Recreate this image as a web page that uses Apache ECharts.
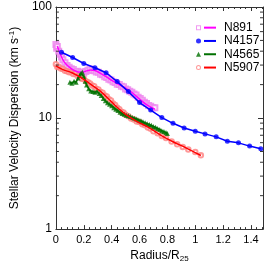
<!DOCTYPE html>
<html><head><meta charset="utf-8">
<script src="https://cdn.jsdelivr.net/npm/echarts@6/dist/echarts.min.js"></script>
<style>html,body{margin:0;padding:0;background:#fff}#c{width:266px;height:268px}</style>
</head><body><div id="c"></div>
<script>
// ---- data ----
const names = ['N891', 'N4157', 'N4565', 'N5907'];
const xTickLabels = ['0', '0.2', '0.4', '0.6', '0.8', '1', '1.2', '1.4'];
const yTickLabels = ['1', '10', '100'];
const yMinorTicks = [2,3,4,5,6,7,8,9,20,30,40,50,60,70,80,90];

// N891 measured points (open squares) and fitted line
const n891X = [0.0,0.005,0.01,0.02,0.03,0.04,0.05,0.065,0.08,0.095,0.11,0.125,0.14,0.155,0.17,0.185,0.20,0.215,0.23,0.245,0.26,0.275,0.29,0.305,0.32,0.335,0.35,0.365,0.38,0.395,0.41,0.425,0.44,0.455,0.47,0.485,0.50,0.515,0.53,0.545,0.56,0.575,0.59,0.605,0.62,0.635,0.65,0.665,0.68,0.695,0.71];
const n891Y = [46,42.5,44,40,37.5,35.5,33.5,31.5,29.8,28.6,27.8,27.4,26.3,26.4,25.6,26.0,25.4,26.2,26.9,27.6,27.0,26.6,26.0,25.8,24.8,24.6,23.5,23.2,22.3,22.0,21.2,20.9,20.2,20.0,19.3,19.1,18.3,18.0,17.4,17.1,16.5,16.1,15.4,15.0,14.5,13.9,13.5,13.0,12.8,12.4,12.4];
const n891FitX = [0.01,0.03,0.05,0.07,0.10,0.13,0.16,0.19,0.22,0.25,0.28,0.32,0.36,0.40,0.45,0.50,0.55,0.60,0.65,0.71];
const n891FitY = [44.5,38,33.5,30.8,28.5,26.9,26.0,25.9,26.6,27.1,26.8,25.3,23.6,21.8,20.1,18.6,16.8,14.8,13.2,12.0];

// N4157 (filled circles joined)
const n4157X = [0.04,0.12,0.20,0.28,0.36,0.44,0.52,0.60,0.68,0.76,0.84,0.92,1.00,1.07,1.15,1.23,1.31,1.39,1.47];
const n4157Y = [39.1,35.1,31.0,28.4,25.6,21.3,17.3,13.8,11.8,10.1,8.97,8.14,7.61,7.20,6.77,6.19,5.98,5.59,5.29];

// N4565 (filled triangles joined)
const n4565X = [0.10,0.115,0.13,0.145,0.16,0.17,0.18,0.19,0.20,0.21,0.22,0.235,0.25,0.265,0.28,0.295,0.31,0.325,0.34,0.355,0.37,0.385,0.40,0.415,0.43,0.445,0.46,0.475,0.49,0.505,0.52,0.535,0.55,0.565,0.58,0.595,0.61,0.625,0.64,0.655,0.67,0.685,0.70,0.715,0.73,0.745,0.76,0.775,0.79,0.80];
const n4565Y = [21.0,20.6,21.4,21.0,23.0,24.2,25.3,25.8,23.8,21.5,19.8,18.4,17.5,17.3,17.1,17.4,16.6,16.0,15.0,14.3,13.7,13.3,12.9,12.4,12.0,11.7,11.3,11.0,10.8,10.6,10.5,10.3,10.1,9.95,9.8,9.6,9.45,9.25,9.05,8.9,8.75,8.6,8.4,8.25,8.05,7.9,7.7,7.55,7.4,7.25];

// N5907 measured points (open circles) and fitted line
const n5907X = [0.0,0.01,0.02,0.035,0.05,0.065,0.08,0.095,0.11,0.125,0.14,0.155,0.17,0.185,0.20,0.215,0.23,0.245,0.26,0.275,0.29,0.305,0.32,0.335,0.35,0.365,0.38,0.395,0.41,0.425,0.44,0.455,0.47,0.485,0.50,0.52,0.54,0.56,0.58,0.60,0.62,0.64,0.66,0.68,0.70,0.73,0.76,0.79,0.83,0.87,0.91,0.95,1.0,1.04];
const n5907Y = [30.5,28.8,29.0,28.0,27.6,26.6,26.4,25.8,25.9,24.9,25.0,23.9,23.8,22.6,22.6,21.4,21.0,20.5,19.6,19.3,18.3,18.1,17.2,16.9,16.0,15.6,14.8,14.4,13.5,13.1,12.4,12.0,11.4,11.2,10.7,10.4,9.9,9.7,9.3,9.2,8.8,8.6,8.2,8.0,7.6,7.3,6.9,6.6,6.15,5.8,5.5,5.2,4.95,4.62];
const n5907FitX = [0.0,0.05,0.115,0.18,0.25,0.32,0.375,0.43,0.50,0.576,0.667,0.757,0.847,0.926,1.04];
const n5907FitY = [29.5,27.3,25.6,23.1,20.1,17.4,15.0,12.8,10.8,9.4,8.2,6.95,6.05,5.45,4.6];

const zip = (a, b) => a.map((v, i) => [v, b[i]]);
const XMIN = 0, XMAX = 1.486;
const FONT = "'Liberation Sans', Arial, sans-serif";
const AX = '#333';
const HOLLOW_SQ = 'path://M0,0L10,0L10,10L0,10ZM2,2L2,8L8,8L8,2Z';
const HOLLOW_CI = 'path://M5,0A5,5,0,1,1,5,10A5,5,0,1,1,5,0ZM5,2A3,3,0,1,0,5,8A3,3,0,1,0,5,2Z';

const chart = echarts.init(document.getElementById('c'), null, {renderer: 'canvas'});
const commonX = {
  type: 'value', min: XMIN, max: XMAX, interval: 0.2,
  axisLine: {show: true, onZero: false, lineStyle: {color: AX, width: 1}},
  axisTick: {show: true, inside: true, length: 4, lineStyle: {color: AX}},
  minorTick: {show: true, splitNumber: 5, length: 2, lineStyle: {color: AX}},
  splitLine: {show: false}
};
const commonY = {
  type: 'log', logBase: 10, min: 1, max: 100,
  axisLine: {show: true, onZero: false, lineStyle: {color: AX, width: 1}},
  axisTick: {show: true, inside: true, length: 5, lineStyle: {color: AX}},
  splitLine: {show: false}
};

chart.setOption({
  animation: false,
  backgroundColor: '#fff',
  textStyle: {fontFamily: FONT},
  grid: {left: 43, right: 3, top: 7, bottom: 37, containLabel: false},
  xAxis: [
    Object.assign({}, commonX, {
      position: 'bottom',
      axisLabel: {show: true, color: '#000', fontSize: 11, fontFamily: FONT, margin: 5, showMaxLabel: false,
        formatter: v => { const i = Math.round(v / 0.2); return Math.abs(v - i * 0.2) < 1e-6 ? (xTickLabels[i] || '') : ''; }},
      name: 'Radius/R{sub|25}', nameLocation: 'middle', nameGap: 17,
      nameTextStyle: {color: '#000', fontSize: 12, fontFamily: FONT,
        rich: {sub: {fontSize: 8, fontFamily: FONT, color: '#000', verticalAlign: 'bottom', padding: [6, 0, 0, 0]}}}
    }),
    Object.assign({}, commonX, {position: 'top', axisLabel: {show: false}})
  ],
  yAxis: [
    Object.assign({}, commonY, {
      position: 'left',
      axisLabel: {show: true, color: '#000', fontSize: 12, fontFamily: FONT, margin: 4,
        formatter: v => { const s = String(Math.round(v)); return yTickLabels.indexOf(s) >= 0 ? s : ''; }},
      name: 'Stellar Velocity Dispersion (km s{sup|-1})', nameLocation: 'middle', nameGap: 31,
      nameTextStyle: {color: '#000', fontSize: 12, fontFamily: FONT,
        rich: {sup: {fontSize: 8, fontFamily: FONT, color: '#000', verticalAlign: 'top', padding: [0, 0, 6, 0]}}}
    }),
    Object.assign({}, commonY, {position: 'right', axisLabel: {show: false}})
  ],
  legend: [
    {
      orient: 'vertical', left: 196, top: 21, padding: 0, itemGap: 0, itemWidth: 5, itemHeight: 5,
      itemStyle: {borderWidth: 0},
      data: [
        {name: names[0] + ' pts', icon: HOLLOW_SQ},
        names[1] + ' pts',
        names[2] + ' pts',
        {name: names[3] + ' pts', icon: HOLLOW_CI}
      ],
      formatter: () => ' ',
      textStyle: {fontSize: 12, lineHeight: 13.3, fontFamily: FONT}, selectedMode: false
    },
    {
      orient: 'vertical', left: 204, top: 21, padding: 0, itemGap: 0, itemWidth: 12, itemHeight: 2, icon: 'rect',
      data: names, selectedMode: false,
      textStyle: {fontSize: 12, lineHeight: 13.3, color: '#000', fontFamily: FONT, padding: [0, 0, 0, 3]}
    }
  ],
  series: [
    {name: 'N891 pts', type: 'scatter', data: zip(n891X, n891Y), symbol: 'emptyRect', symbolSize: 5,
      itemStyle: {color: '#ee82ee'}, z: 1},
    {name: 'N891', type: 'line', data: zip(n891FitX, n891FitY), smooth: 0.4, showSymbol: false, symbol: 'none',
      lineStyle: {color: '#ff00ff', width: 1.5}, itemStyle: {color: '#ff00ff'}, z: 3},
    {name: 'N4157 pts', type: 'scatter', data: zip(n4157X, n4157Y), symbol: 'circle', symbolSize: 5,
      itemStyle: {color: '#0000ff'}, z: 5},
    {name: 'N4157', type: 'line', data: zip(n4157X, n4157Y), showSymbol: false, symbol: 'none',
      lineStyle: {color: '#0000ff', width: 1.5}, itemStyle: {color: '#0000ff'}, z: 4},
    {name: 'N4565 pts', type: 'scatter', data: zip(n4565X, n4565Y), symbol: 'triangle', symbolSize: 5,
      itemStyle: {color: '#007000'}, z: 5},
    {name: 'N4565', type: 'line', data: zip(n4565X, n4565Y), showSymbol: false, symbol: 'none',
      lineStyle: {color: '#007000', width: 1.5}, itemStyle: {color: '#007000'}, z: 4},
    {name: 'N5907 pts', type: 'scatter', data: zip(n5907X, n5907Y), symbol: 'emptyCircle', symbolSize: 4.5,
      itemStyle: {color: '#ff8080'}, z: 2},
    {name: 'N5907', type: 'line', data: zip(n5907FitX, n5907FitY), smooth: 0.4, showSymbol: false, symbol: 'none',
      lineStyle: {color: '#ff0000', width: 1.5}, itemStyle: {color: '#ff0000'}, z: 6},
    {
      name: 'yminor', type: 'custom', silent: true, z: 10,
      data: yMinorTicks.map(v => [XMIN, v]),
      renderItem: (params, api) => {
        const v = api.value(1);
        const pL = api.coord([XMIN, v]);
        const pR = api.coord([XMAX, v]);
        return {type: 'group', children: [
          {type: 'line', shape: {x1: pL[0], y1: pL[1], x2: pL[0] + 3, y2: pL[1]}, style: {stroke: AX, lineWidth: 1}},
          {type: 'line', shape: {x1: pR[0] - 3, y1: pR[1], x2: pR[0], y2: pR[1]}, style: {stroke: AX, lineWidth: 1}}
        ]};
      }
    }
  ]
});
</script>
</body></html>
